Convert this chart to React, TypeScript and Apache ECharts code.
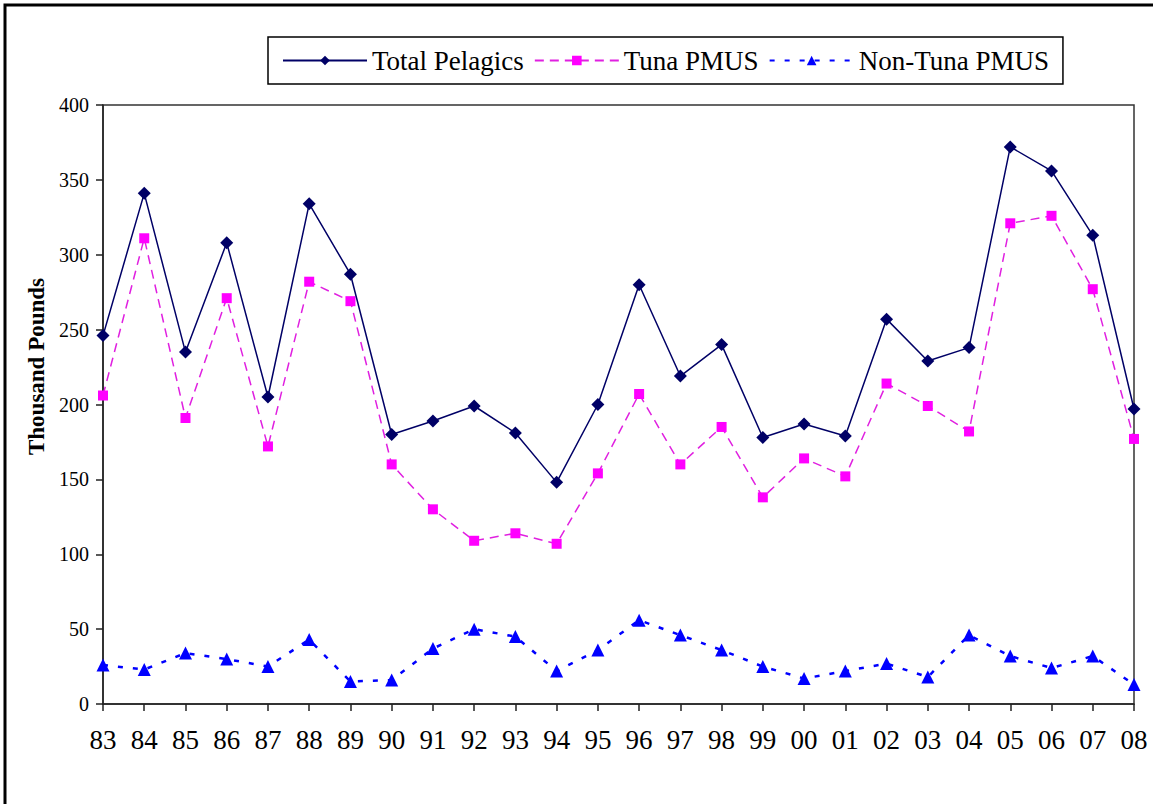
import React, { useEffect, useRef } from "react";
import * as echarts from "echarts";

const years = ["83","84","85","86","87","88","89","90","91","92","93","94","95","96","97","98","99","00","01","02","03","04","05","06","07","08"];
const totalPelagics = [246, 341, 235, 308, 205, 334, 287, 180, 189, 199, 181, 148, 200, 280, 219, 240, 178, 187, 179, 257, 229, 238, 372, 356, 313, 197];
const tunaPMUS = [206, 311, 191, 271, 172, 282, 269, 160, 130, 109, 114, 107, 154, 207, 160, 185, 138, 164, 152, 214, 199, 182, 321, 326, 277, 177];
const nonTunaPMUS = [26, 23, 34, 30, 25, 43, 15, 16, 37, 50, 45, 22, 36, 56, 46, 36, 25, 17, 22, 27, 18, 46, 32, 24, 32, 13];
const yTicks = { min: 0, max: 400, interval: 50 };

const SERIF = "Liberation Serif, Times New Roman, serif";

export default function App() {
  const ref = useRef<HTMLDivElement>(null);
  useEffect(() => {
    if (!ref.current) return;
    const chart = echarts.init(ref.current, null, { renderer: "svg" });
    chart.setOption({
      animation: false,
      backgroundColor: "#ffffff",
      textStyle: { fontFamily: SERIF, color: "#000" },
      graphic: [
        {
          type: "rect",
          shape: { x: 5, y: 5, width: 1170, height: 820 },
          style: { fill: "none", stroke: "#000", lineWidth: 3 },
          silent: true,
        },
      ],
      legend: {
        left: 268,
        top: 37,
        padding: [10, 14],
        itemGap: 10,
        itemWidth: 84,
        itemHeight: 12,
        borderColor: "#000",
        borderWidth: 1.5,
        textStyle: { fontFamily: SERIF, fontSize: 27, color: "#000" },
        data: ["Total Pelagics", "Tuna PMUS", "Non-Tuna PMUS"],
      },
      grid: {
        left: 103,
        right: 19,
        top: 105,
        bottom: 100,
        show: true,
        borderColor: "#333",
        borderWidth: 1.5,
        backgroundColor: "transparent",
      },
      xAxis: {
        type: "category",
        data: years,
        boundaryGap: false,
        axisLine: { lineStyle: { color: "#222", width: 1.5 } },
        axisTick: { show: true, length: 7, inside: false, alignWithLabel: true, lineStyle: { color: "#222", width: 1.5 } },
        axisLabel: { fontFamily: SERIF, fontSize: 27, color: "#000", margin: 22, interval: 0 },
        splitLine: { show: false },
      },
      yAxis: {
        type: "value",
        min: yTicks.min,
        max: yTicks.max,
        interval: yTicks.interval,
        name: "Thousand Pounds",
        nameLocation: "middle",
        nameGap: 53,
        nameRotate: 90,
        nameTextStyle: { fontFamily: SERIF, fontSize: 23, fontWeight: "bold", color: "#000", padding: [0, 0, 0, 76] },
        axisLine: { show: true, lineStyle: { color: "#222", width: 1.5 } },
        axisTick: { show: true, length: 7, inside: false, lineStyle: { color: "#222", width: 1.5 } },
        axisLabel: { fontFamily: SERIF, fontSize: 20, color: "#000", margin: 14 },
        splitLine: { show: false },
      },
      series: [
        {
          name: "Total Pelagics",
          type: "line",
          data: totalPelagics,
          symbol: "diamond",
          symbolSize: 13,
          color: "#000066",
          itemStyle: { color: "#000066" },
          lineStyle: { color: "#000066", width: 1.5, type: "solid" },
          z: 3,
        },
        {
          name: "Tuna PMUS",
          type: "line",
          data: tunaPMUS,
          symbol: "rect",
          symbolSize: 10,
          color: "#ff00ff",
          itemStyle: { color: "#ff00ff" },
          lineStyle: { color: "#e020e0", width: 1.5, type: [9, 6] },
          z: 2,
        },
        {
          name: "Non-Tuna PMUS",
          type: "line",
          data: nonTunaPMUS,
          symbol: "triangle",
          symbolSize: 13,
          color: "#0000ff",
          itemStyle: { color: "#0000ff" },
          lineStyle: { color: "#0000ff", width: 2.5, type: [5, 10] },
          z: 2,
        },
      ],
    });
    return () => chart.dispose();
  }, []);
  return (
    <div
      ref={ref}
      style={{ position: "fixed", left: 0, top: 0, width: 1153, height: 804 }}
    />
  );
}
